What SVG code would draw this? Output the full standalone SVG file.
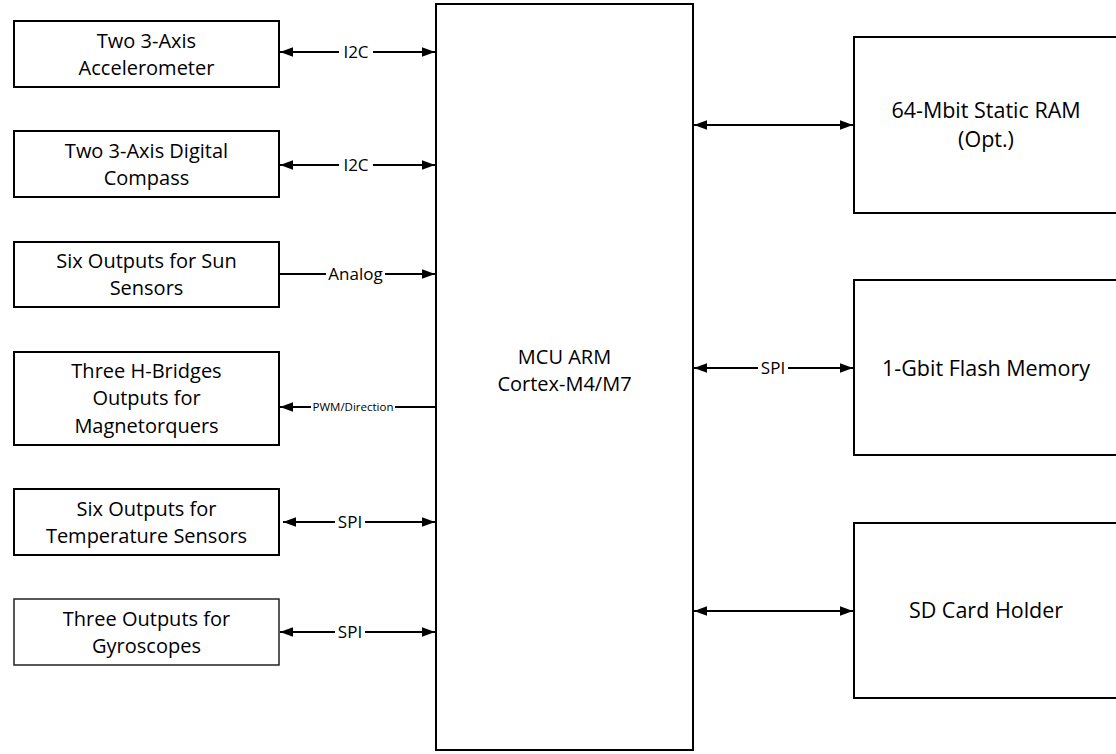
<svg xmlns="http://www.w3.org/2000/svg" width="1116" height="754" viewBox="0 0 1116 754">
<style>
.box{fill:#fff;stroke:#000;stroke-width:2}
.thin{fill:#fff;stroke:#222;stroke-width:1.5}
.t{font-family:"Open Sans","Liberation Sans",sans-serif;font-size:20px;fill:#000;text-anchor:middle}
.tr{font-family:"Open Sans","Liberation Sans",sans-serif;font-size:21.5px;fill:#000;text-anchor:middle}
.lbl{font-family:"Open Sans","Liberation Sans",sans-serif;font-size:17px;fill:#000;text-anchor:middle}
.sm{font-family:"Open Sans","Liberation Sans",sans-serif;font-size:11.5px;fill:#000;text-anchor:middle}
.ln{stroke:#000;stroke-width:2;fill:none}
.bg{fill:#fff}
</style>
<defs>
<marker id="ae" markerUnits="userSpaceOnUse" markerWidth="13" markerHeight="12" viewBox="0 0 13 12" refX="13" refY="6" orient="auto">
<path d="M0,1.2 L13,6 L0,10.8 Z" fill="#000"/>
</marker>
<marker id="as" markerUnits="userSpaceOnUse" markerWidth="13" markerHeight="12" viewBox="0 0 13 12" refX="0" refY="6" orient="auto">
<path d="M13,1.2 L0,6 L13,10.8 Z" fill="#000"/>
</marker>
</defs>

<g id="mcu">
<rect class="box" x="436" y="4" width="257" height="746"/>
<text class="t" x="564.5" y="364">MCU ARM</text>
<text class="t" x="564.5" y="391">Cortex-M4/M7</text>
</g>

<g id="accel">
<rect class="box" x="14" y="21" width="265" height="66"/>
<text class="t" x="146.5" y="47.5">Two 3-Axis</text>
<text class="t" x="146.5" y="74.5">Accelerometer</text>
</g>

<g id="compass">
<rect class="box" x="14" y="131" width="265" height="66"/>
<text class="t" x="146.5" y="157.5">Two 3-Axis Digital</text>
<text class="t" x="146.5" y="184.5">Compass</text>
</g>

<g id="sun">
<rect class="box" x="14" y="242" width="265" height="65"/>
<text class="t" x="146.5" y="268">Six Outputs for Sun</text>
<text class="t" x="146.5" y="295">Sensors</text>
</g>

<g id="hbridge">
<rect class="box" x="14" y="352" width="265" height="93"/>
<text class="t" x="146.5" y="377.5">Three H-Bridges</text>
<text class="t" x="146.5" y="405">Outputs for</text>
<text class="t" x="146.5" y="432.5">Magnetorquers</text>
</g>

<g id="temp">
<rect class="box" x="14" y="489" width="265" height="66"/>
<text class="t" x="146.5" y="515.5">Six Outputs for</text>
<text class="t" x="146.5" y="542.5">Temperature Sensors</text>
</g>

<g id="gyro">
<rect class="thin" x="14" y="599" width="265" height="66"/>
<text class="t" x="146.5" y="625.5">Three Outputs for</text>
<text class="t" x="146.5" y="652.5">Gyroscopes</text>
</g>

<g id="sram">
<rect class="box" x="854" y="37" width="264" height="176"/>
<text class="tr" x="986" y="118">64-Mbit Static RAM</text>
<text class="tr" x="986" y="147">(Opt.)</text>
</g>

<g id="flash">
<rect class="box" x="854" y="280" width="264" height="175"/>
<text class="tr" x="986" y="375.5">1-Gbit Flash Memory</text>
</g>

<g id="sd">
<rect class="box" x="854" y="523" width="264" height="175"/>
<text class="tr" x="986" y="618">SD Card Holder</text>
</g>

<g id="connectors">
<line class="ln" x1="280" y1="52" x2="435" y2="52" marker-start="url(#as)" marker-end="url(#ae)"/>
<rect class="bg" x="339" y="44" width="34" height="16"/>
<text class="lbl" x="356" y="58">I2C</text>

<line class="ln" x1="280" y1="165" x2="435" y2="165" marker-start="url(#as)" marker-end="url(#ae)"/>
<rect class="bg" x="339" y="157" width="34" height="16"/>
<text class="lbl" x="356" y="171">I2C</text>

<line class="ln" x1="279" y1="274" x2="435" y2="274" marker-end="url(#ae)"/>
<rect class="bg" x="326" y="266" width="59" height="16"/>
<text class="lbl" x="355.5" y="280">Analog</text>

<line class="ln" x1="280" y1="407" x2="436" y2="407" marker-start="url(#as)"/>
<rect class="bg" x="311" y="400" width="84" height="14"/>
<text class="sm" x="353" y="411">PWM/Direction</text>

<line class="ln" x1="283" y1="522" x2="435" y2="522" marker-start="url(#as)" marker-end="url(#ae)"/>
<rect class="bg" x="335" y="514" width="30" height="16"/>
<text class="lbl" x="350" y="528">SPI</text>

<line class="ln" x1="280" y1="632" x2="435" y2="632" marker-start="url(#as)" marker-end="url(#ae)"/>
<rect class="bg" x="335" y="624" width="30" height="16"/>
<text class="lbl" x="350" y="638">SPI</text>

<line class="ln" x1="694" y1="125" x2="853" y2="125" marker-start="url(#as)" marker-end="url(#ae)"/>

<line class="ln" x1="694" y1="368" x2="853" y2="368" marker-start="url(#as)" marker-end="url(#ae)"/>
<rect class="bg" x="758" y="360" width="30" height="16"/>
<text class="lbl" x="773" y="374">SPI</text>

<line class="ln" x1="694" y1="611" x2="853" y2="611" marker-start="url(#as)" marker-end="url(#ae)"/>
</g>
</svg>
